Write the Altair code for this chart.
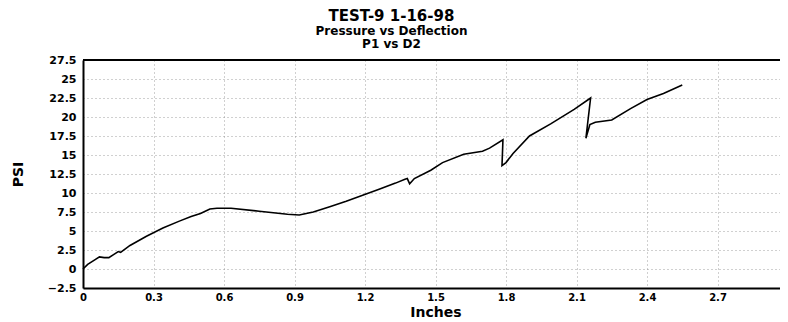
import altair as alt
import pandas as pd

# P1 vs D2 trace (in sequence)
deflection_in = [0.00, 0.02, 0.05, 0.07, 0.09, 0.11, 0.13, 0.15, 0.16, 0.20,
                 0.27, 0.34, 0.41, 0.46, 0.50, 0.54, 0.57, 0.63, 0.75, 0.87,
                 0.92, 0.98, 1.05, 1.12, 1.19, 1.26, 1.33, 1.37, 1.38, 1.39,
                 1.41, 1.48, 1.53, 1.62, 1.70, 1.73, 1.787, 1.783, 1.80, 1.83,
                 1.90, 1.99, 2.09, 2.16, 2.14, 2.157, 2.18, 2.25, 2.33, 2.40,
                 2.47, 2.55]
pressure_psi = [0.0, 0.6, 1.2, 1.6, 1.5, 1.5, 1.9, 2.3, 2.2, 3.1,
                4.3, 5.4, 6.3, 6.9, 7.3, 7.9, 8.0, 8.0, 7.6, 7.2,
                7.1, 7.5, 8.2, 8.9, 9.7, 10.5, 11.3, 11.8, 11.9, 11.2,
                11.9, 13.0, 14.0, 15.1, 15.5, 15.9, 17.0, 13.6, 14.0, 15.2,
                17.5, 19.1, 21.0, 22.5, 17.2, 19.0, 19.3, 19.6, 21.1, 22.3,
                23.1, 24.2]

x_ticks = [0, 0.3, 0.6, 0.9, 1.2, 1.5, 1.8, 2.1, 2.4, 2.7, 3]
y_ticks = [-2.5, 0, 2.5, 5, 7.5, 10, 12.5, 15, 17.5, 20, 22.5, 25, 27.5]

df = pd.DataFrame({
    "seq": list(range(len(deflection_in))),
    "Inches": deflection_in,
    "PSI": pressure_psi,
})

FONT = "DejaVu Sans"
PLOT_W = 697      # visible plot width (page is 772 px wide inside its margin)
X_RANGE = 705     # x scale runs to the right edge of the picture, as in the reference
PLOT_H = 228

x_scale = alt.Scale(domain=[0, 3], nice=False, zero=False, range=[0, X_RANGE])
y_scale = alt.Scale(domain=[-2.5, 27.5], nice=False, zero=False)

common_axis = dict(labelFlush=False, ticks=False, domain=True,
                   domainColor="black", domainWidth=2,
                   labelFont=FONT, labelFontWeight="bold", labelColor="black",
                   titleFont=FONT, titleFontWeight="bold", titleColor="black",
                   titleFontSize=14, format=".1~f",
                   grid=True, gridDash=[1, 3], gridColor="#8a8a8a",
                   gridOpacity=0.8, gridWidth=1)

line = alt.Chart(df).mark_line(color="black", strokeWidth=1.6).encode(
    x=alt.X("Inches:Q", scale=x_scale,
            axis=alt.Axis(values=x_ticks, title="Inches", labelPadding=4,
                          labelFontSize=10, titlePadding=3, **common_axis)),
    y=alt.Y("PSI:Q", scale=y_scale,
            axis=alt.Axis(values=y_ticks, title="PSI", labelPadding=7,
                          labelFontSize=11, titlePadding=22, **common_axis)),
    order="seq:Q",
)

# top frame line of the plot area
frame_top = alt.Chart(pd.DataFrame({"edge": ["top"]})).mark_rule(
    color="black", strokeWidth=2
).encode(x=alt.value(0), x2=alt.value(X_RANGE), y=alt.value(0))

chart = alt.layer(line, frame_top).properties(
    width=PLOT_W,
    height=PLOT_H,
    autosize=alt.AutoSizeParams(type="none"),
    padding={"left": 75, "top": 52, "right": 0, "bottom": 30},
    title=alt.TitleParams(
        text="TEST-9 1-16-98",
        subtitle=["Pressure vs Deflection", "P1 vs D2"],
        anchor="middle", dx=-40, offset=4,
        font=FONT, fontSize=15, fontWeight="bold", color="black",
        subtitleFont=FONT, subtitleFontSize=12, subtitleFontWeight="bold",
        subtitleColor="black", subtitleLineHeight=13, subtitlePadding=2,
    ),
).configure_view(
    stroke="transparent"
).configure(background="white")

chart.save("out.html", embed_options={"renderer": "svg", "actions": False})
